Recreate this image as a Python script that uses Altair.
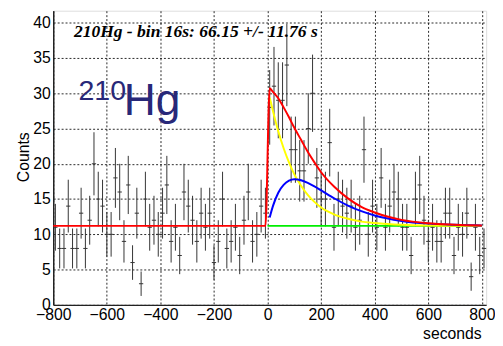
import altair as alt
import pandas as pd

# ---- data ----
bin_width = 16
x_start = -800
counts = [11, 8, 8, 14, 8, 8, 13, 8, 12, 20,
          15, 14, 10, 10, 18, 16, 9, 17, 6, 13,
          3, 15, 11, 12, 10, 13, 17, 9, 11, 7,
          16, 14, 12, 9, 13, 11, 13, 6, 9, 15,
          8, 9, 11, 7, 12, 16, 9, 10, 14, 13,
          28, 31, 29, 29, 34, 22, 22, 19, 19, 25,
          30, 18, 15, 15, 23, 11, 15, 14, 13, 14,
          11, 12, 22, 10, 14, 11, 18, 11, 14, 16,
          15, 11, 11, 7, 15, 17, 12, 9, 11, 9,
          9, 13, 13, 7, 11, 10, 13, 4, 11, 7, 8]

fit_t = [8, 20, 40, 60, 80, 100, 125, 150, 175, 200, 250, 300, 350, 400, 500, 600, 700, 800]
yellow_v = [29.4, 27.5, 24.6, 22.2, 20.2, 18.5, 16.9, 15.6, 14.6, 13.8, 12.8, 12.2, 11.8, 11.6, 11.35, 11.25, 11.22, 11.2]
blue_v = [12.4, 14.0, 15.9, 17.0, 17.6, 17.8, 17.67, 17.3, 16.8, 16.23, 15.08, 14.08, 13.28, 12.67, 11.9, 11.52, 11.35, 11.26]
red_t = [-800, -8] + fit_t
red_v = [11.2, 11.2, 30.7, 30.2, 29.3, 28.0, 26.6, 25.1, 23.4, 21.7, 20.2, 18.8, 16.7, 15.1, 13.9, 13.1, 12.05, 11.57, 11.37, 11.26]
green_t = [0, 800]
green_v = [11.2, 11.2]

x_ticks = [-800, -600, -400, -200, 0, 200, 400, 600, 800]
y_ticks = [0, 5, 10, 15, 20, 25, 30, 35, 40]

hist = pd.DataFrame({
    "x0": [x_start + bin_width * i for i in range(len(counts))],
    "count": counts,
})

xs = alt.Scale(domain=[-800, 816], nice=False, zero=False)
ys = alt.Scale(domain=[0, 41.7], nice=False, zero=False)

grid_kw = dict(grid=True, gridColor="#000", gridDash=[2, 2], gridWidth=1, gridOpacity=0.85)

x_axis = alt.Axis(values=x_ticks, title="seconds", labelFontSize=16, labelFont="Liberation Sans",
                  labelColor="black", labelFlush=False, labelOverlap=False, ticks=False, labelPadding=2,
                  domainColor="#222", domainWidth=1.5, titleFont="Liberation Sans", titleFontSize=16,
                  titleFontWeight="normal", titleColor="black", titleX=435, titleY=34,
                  titleAlign="right", titleBaseline="alphabetic", format="d", **grid_kw)
y_axis = alt.Axis(values=y_ticks, title="Counts", labelFontSize=16, labelFont="Liberation Sans",
                  labelColor="black", labelFlush=False, labelOverlap=False, ticks=False, labelPadding=3,
                  domainColor="#222", domainWidth=1.5, titleFont="Liberation Sans", titleFontSize=16,
                  titleFontWeight="normal", titleColor="black", titleAngle=270, titleX=-25, titleY=148.5,
                  titleAlign="center", titleBaseline="alphabetic", format="d", **grid_kw)


def X(field):
    return alt.X(field, scale=xs, axis=x_axis)


def Y(field):
    return alt.Y(field, scale=ys, axis=y_axis)


base = alt.Chart(hist).transform_calculate(
    xc="datum.x0 + 8", x1="datum.x0 + 16",
    lo="max(0, datum.count - sqrt(datum.count))", hi="datum.count + sqrt(datum.count)")

vbars = base.mark_rule(color="#333", strokeWidth=1).encode(x=X("xc:Q"), y=Y("lo:Q"), y2="hi:Q")
hticks = base.mark_rule(color="#333", strokeWidth=1).encode(x=X("x0:Q"), x2="x1:Q", y=Y("count:Q"))


def curve(ts, vs, color):
    d = pd.DataFrame({"t": ts, "v": vs})
    return alt.Chart(d).mark_line(color=color, strokeWidth=2, interpolate="monotone").encode(
        x=X("t:Q"), y=Y("v:Q"))


green = curve(green_t, green_v, "#00ee00")
yellow = curve(fit_t, yellow_v, "#ffff00")
blue = curve(fit_t, blue_v, "#0000ff")
red = curve(red_t, red_v, "#ff0000")


def label(xv, yv, txt, **kw):
    d = pd.DataFrame({"x": [xv], "y": [yv], "txt": [txt]})
    return alt.Chart(d).mark_text(align="left", baseline="alphabetic", **kw).encode(
        x=X("x:Q"), y=Y("y:Q"), text="txt:N")


title_txt = label(-723, 38.0, "210Hg - bin 16s: 66.15 +/- 11.76 s", font="Liberation Serif",
                  fontStyle="italic", fontWeight="bold", fontSize=17.8, color="black")
sup_txt = label(-706, 29.0, "210", font="Liberation Sans", fontSize=29, color="#282878")
hg_txt = label(-537, 26.9, "Hg", font="Liberation Sans", fontSize=45, color="#282878")

chart = alt.layer(vbars, hticks, green, yellow, blue, red, title_txt, sup_txt, hg_txt).properties(
    width=440, height=299,
    padding={"left": 46, "top": 0, "right": 9, "bottom": 37},
    autosize=alt.AutoSizeParams(type="none"),
).configure_view(stroke="#999", strokeWidth=1).configure(background="white")

chart.save("out.html", embed_options={"renderer": "svg", "actions": False})
